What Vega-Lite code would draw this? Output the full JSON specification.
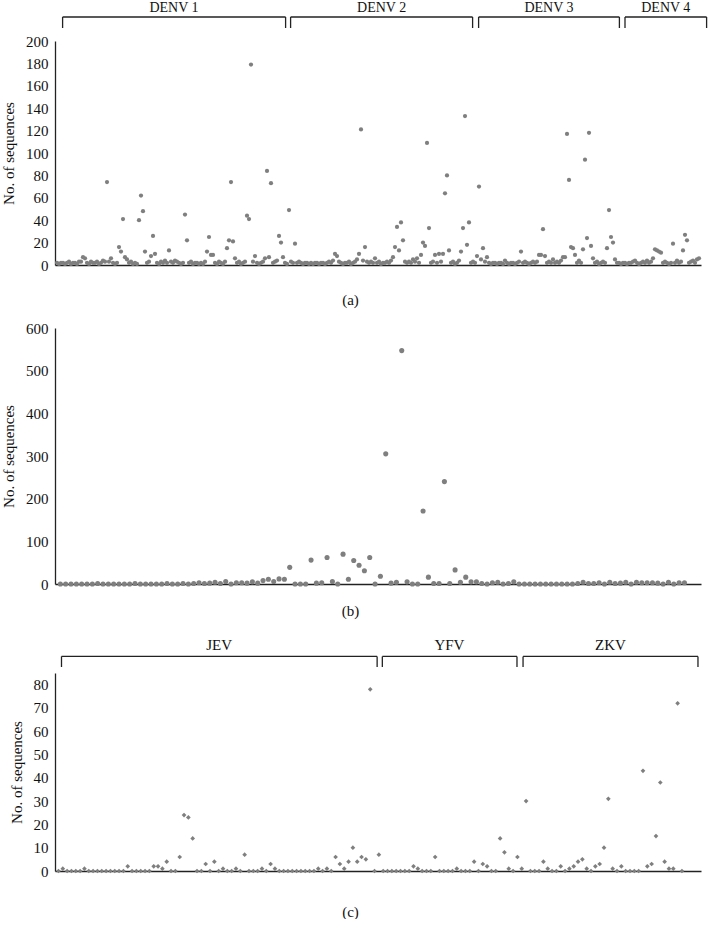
{
  "$schema": "https://vega.github.io/schema/vega-lite/v6.json",
  "padding": {"left": 1, "top": 0, "right": 0, "bottom": 0},
  "bounds": "flush",
  "spacing": 0,
  "config": {
    "view": {"stroke": null},
    "font": "Liberation Serif",
    "axis": {"grid": false, "ticks": false, "domainColor": "#222", "domainWidth": 1.3, "labelFont": "Liberation Serif", "labelFontSize": 15, "labelColor": "#111", "titleFont": "Liberation Serif", "titleFontSize": 15, "titleFontWeight": "normal", "titleColor": "#111"},
    "text": {"font": "Liberation Serif", "fontSize": 15, "color": "#111"}
  },
  "datasets": {
    "denv": [
      {"name": "DENV 1", "start": 3.8, "end": 115.3, "mid": 59.5},
      {"name": "DENV 2", "start": 117.8, "end": 208.8, "mid": 163.3},
      {"name": "DENV 3", "start": 211.8, "end": 282.2, "mid": 247},
      {"name": "DENV 4", "start": 285, "end": 325.8, "mid": 305.4}
    ],
    "other": [
      {"name": "JEV", "start": 1.7, "end": 74.6, "mid": 38.1},
      {"name": "YFV", "start": 75.8, "end": 106.9, "mid": 91.3},
      {"name": "ZKV", "start": 108.3, "end": 148.7, "mid": 128.5}
    ],
    "a": [
{"i":1,"n":2},{"i":2,"n":1},{"i":3,"n":2},{"i":4,"n":2},{"i":5,"n":1},{"i":6,"n":2},{"i":7,"n":3},{"i":8,"n":1},{"i":9,"n":2},{"i":10,"n":2},
{"i":11,"n":1},{"i":12,"n":3},{"i":13,"n":3},{"i":14,"n":7},{"i":15,"n":6},{"i":16,"n":2},{"i":17,"n":1},{"i":18,"n":3},{"i":19,"n":2},{"i":20,"n":2},
{"i":21,"n":3},{"i":22,"n":1},{"i":23,"n":2},{"i":24,"n":4},{"i":25,"n":3},{"i":26,"n":74},{"i":27,"n":3},{"i":28,"n":6},{"i":29,"n":2},{"i":30,"n":1},
{"i":31,"n":2},{"i":32,"n":16},{"i":33,"n":12},{"i":34,"n":41},{"i":35,"n":7},{"i":36,"n":5},{"i":37,"n":2},{"i":38,"n":3},{"i":39,"n":1},{"i":40,"n":2},
{"i":41,"n":1},{"i":42,"n":40},{"i":43,"n":62},{"i":44,"n":48},{"i":45,"n":12},{"i":46,"n":2},{"i":47,"n":3},{"i":48,"n":8},{"i":49,"n":26},{"i":50,"n":10},
{"i":51,"n":2},{"i":52,"n":1},{"i":53,"n":3},{"i":54,"n":2},{"i":55,"n":4},{"i":56,"n":2},{"i":57,"n":13},{"i":58,"n":3},{"i":59,"n":2},{"i":60,"n":4},
{"i":61,"n":3},{"i":62,"n":2},{"i":63,"n":1},{"i":64,"n":2},{"i":65,"n":45},{"i":66,"n":22},{"i":67,"n":2},{"i":68,"n":3},{"i":69,"n":1},{"i":70,"n":2},
{"i":71,"n":2},{"i":72,"n":1},{"i":73,"n":2},{"i":74,"n":1},{"i":75,"n":3},{"i":76,"n":12},{"i":77,"n":25},{"i":78,"n":9},{"i":79,"n":9},{"i":80,"n":2},
{"i":81,"n":1},{"i":82,"n":3},{"i":83,"n":2},{"i":84,"n":1},{"i":85,"n":3},{"i":86,"n":15},{"i":87,"n":22},{"i":88,"n":74},{"i":89,"n":21},{"i":90,"n":6},
{"i":91,"n":2},{"i":92,"n":3},{"i":93,"n":1},{"i":94,"n":2},{"i":95,"n":3},{"i":96,"n":44},{"i":97,"n":41},{"i":98,"n":179},{"i":99,"n":3},{"i":100,"n":8},
{"i":101,"n":2},{"i":102,"n":1},{"i":103,"n":2},{"i":104,"n":3},{"i":105,"n":6},{"i":106,"n":84},{"i":107,"n":7},{"i":108,"n":73},{"i":109,"n":2},{"i":110,"n":3},
{"i":111,"n":4},{"i":112,"n":26},{"i":113,"n":20},{"i":114,"n":7},{"i":115,"n":2},{"i":116,"n":1},{"i":117,"n":49},{"i":118,"n":3},{"i":119,"n":2},{"i":120,"n":19},
{"i":121,"n":2},{"i":122,"n":3},{"i":123,"n":2},{"i":124,"n":1},{"i":125,"n":2},{"i":126,"n":2},{"i":127,"n":1},{"i":128,"n":2},{"i":129,"n":1},{"i":130,"n":2},
{"i":131,"n":2},{"i":132,"n":1},{"i":133,"n":2},{"i":134,"n":2},{"i":135,"n":1},{"i":136,"n":2},{"i":137,"n":3},{"i":138,"n":2},{"i":139,"n":4},{"i":140,"n":10},
{"i":141,"n":8},{"i":142,"n":3},{"i":143,"n":2},{"i":144,"n":1},{"i":145,"n":2},{"i":146,"n":2},{"i":147,"n":3},{"i":148,"n":1},{"i":149,"n":2},{"i":150,"n":3},
{"i":151,"n":5},{"i":152,"n":10},{"i":153,"n":121},{"i":154,"n":4},{"i":155,"n":16},{"i":156,"n":3},{"i":157,"n":2},{"i":158,"n":3},{"i":159,"n":2},{"i":160,"n":6},
{"i":161,"n":2},{"i":162,"n":3},{"i":163,"n":1},{"i":164,"n":2},{"i":165,"n":2},{"i":166,"n":3},{"i":167,"n":2},{"i":168,"n":4},{"i":169,"n":7},{"i":170,"n":16},
{"i":171,"n":34},{"i":172,"n":13},{"i":173,"n":38},{"i":174,"n":22},{"i":175,"n":3},{"i":176,"n":2},{"i":177,"n":3},{"i":178,"n":2},{"i":179,"n":5},{"i":180,"n":3},
{"i":181,"n":6},{"i":182,"n":2},{"i":183,"n":9},{"i":184,"n":20},{"i":185,"n":17},{"i":186,"n":109},{"i":187,"n":33},{"i":188,"n":2},{"i":189,"n":3},{"i":190,"n":9},
{"i":191,"n":2},{"i":192,"n":10},{"i":193,"n":3},{"i":194,"n":10},{"i":195,"n":64},{"i":196,"n":80},{"i":197,"n":13},{"i":198,"n":2},{"i":199,"n":3},{"i":200,"n":1},
{"i":201,"n":2},{"i":202,"n":4},{"i":203,"n":12},{"i":204,"n":33},{"i":205,"n":133},{"i":206,"n":18},{"i":207,"n":38},{"i":208,"n":2},{"i":209,"n":3},{"i":210,"n":2},
{"i":211,"n":8},{"i":212,"n":70},{"i":213,"n":5},{"i":214,"n":15},{"i":215,"n":3},{"i":216,"n":7},{"i":217,"n":2},{"i":218,"n":1},{"i":219,"n":2},{"i":220,"n":2},
{"i":221,"n":1},{"i":222,"n":2},{"i":223,"n":2},{"i":224,"n":1},{"i":225,"n":4},{"i":226,"n":2},{"i":227,"n":1},{"i":228,"n":2},{"i":229,"n":2},{"i":230,"n":1},
{"i":231,"n":2},{"i":232,"n":3},{"i":233,"n":12},{"i":234,"n":2},{"i":235,"n":3},{"i":236,"n":2},{"i":237,"n":1},{"i":238,"n":2},{"i":239,"n":3},{"i":240,"n":2},
{"i":241,"n":3},{"i":242,"n":9},{"i":243,"n":9},{"i":244,"n":32},{"i":245,"n":8},{"i":246,"n":2},{"i":247,"n":3},{"i":248,"n":2},{"i":249,"n":5},{"i":250,"n":2},
{"i":251,"n":3},{"i":252,"n":2},{"i":253,"n":4},{"i":254,"n":7},{"i":255,"n":7},{"i":256,"n":117},{"i":257,"n":76},{"i":258,"n":16},{"i":259,"n":15},{"i":260,"n":9},
{"i":261,"n":2},{"i":262,"n":4},{"i":263,"n":2},{"i":264,"n":14},{"i":265,"n":94},{"i":266,"n":24},{"i":267,"n":118},{"i":268,"n":17},{"i":269,"n":6},{"i":270,"n":2},
{"i":271,"n":3},{"i":272,"n":1},{"i":273,"n":2},{"i":274,"n":3},{"i":275,"n":2},{"i":276,"n":15},{"i":277,"n":49},{"i":278,"n":25},{"i":279,"n":20},{"i":280,"n":5},
{"i":281,"n":2},{"i":282,"n":2},{"i":283,"n":1},{"i":284,"n":2},{"i":285,"n":2},{"i":286,"n":1},{"i":287,"n":2},{"i":288,"n":2},{"i":289,"n":3},{"i":290,"n":4},
{"i":291,"n":2},{"i":292,"n":1},{"i":293,"n":2},{"i":294,"n":3},{"i":295,"n":2},{"i":296,"n":4},{"i":297,"n":2},{"i":298,"n":3},{"i":299,"n":6},{"i":300,"n":14},
{"i":301,"n":13},{"i":302,"n":12},{"i":303,"n":11},{"i":304,"n":2},{"i":305,"n":3},{"i":306,"n":2},{"i":307,"n":1},{"i":308,"n":2},{"i":309,"n":19},{"i":310,"n":2},
{"i":311,"n":4},{"i":312,"n":2},{"i":313,"n":3},{"i":314,"n":13},{"i":315,"n":27},{"i":316,"n":22},{"i":317,"n":2},{"i":318,"n":3},{"i":319,"n":4},{"i":320,"n":2},
{"i":321,"n":5},{"i":322,"n":6}
    ],
    "b": [
{"j":1,"n":0},{"j":2,"n":0},{"j":3,"n":0},{"j":4,"n":0},{"j":5,"n":0},{"j":6,"n":0},{"j":7,"n":0},{"j":8,"n":1},{"j":9,"n":0},{"j":10,"n":0},
{"j":11,"n":0},{"j":12,"n":0},{"j":13,"n":0},{"j":14,"n":0},{"j":15,"n":1},{"j":16,"n":0},{"j":17,"n":0},{"j":18,"n":0},{"j":19,"n":0},{"j":20,"n":0},
{"j":21,"n":1},{"j":22,"n":0},{"j":23,"n":0},{"j":24,"n":1},{"j":25,"n":0},{"j":26,"n":1},{"j":27,"n":3},{"j":28,"n":1},{"j":29,"n":2},{"j":30,"n":4},
{"j":31,"n":1},{"j":32,"n":6},{"j":33,"n":0},{"j":34,"n":3},{"j":35,"n":3},{"j":36,"n":2},{"j":37,"n":5},{"j":38,"n":2},{"j":39,"n":8},{"j":40,"n":11},
{"j":41,"n":6},{"j":42,"n":12},{"j":43,"n":11},{"j":44,"n":39},{"j":45,"n":0},{"j":46,"n":0},{"j":47,"n":0},{"j":48,"n":56},{"j":49,"n":2},{"j":50,"n":3},
{"j":51,"n":62},{"j":52,"n":6},{"j":53,"n":0},{"j":54,"n":70},{"j":55,"n":11},{"j":56,"n":55},{"j":57,"n":44},{"j":58,"n":31},{"j":59,"n":62},{"j":60,"n":0},
{"j":61,"n":18},{"j":62,"n":305},{"j":63,"n":2},{"j":64,"n":4},{"j":65,"n":547},{"j":66,"n":5},{"j":67,"n":0},{"j":68,"n":0},{"j":69,"n":171},{"j":70,"n":16},
{"j":71,"n":1},{"j":72,"n":1},{"j":73,"n":240},{"j":74,"n":1},{"j":75,"n":33},{"j":76,"n":4},{"j":77,"n":16},{"j":78,"n":5},{"j":79,"n":5},{"j":80,"n":1},
{"j":81,"n":0},{"j":82,"n":3},{"j":83,"n":4},{"j":84,"n":0},{"j":85,"n":1},{"j":86,"n":5},{"j":87,"n":0},{"j":88,"n":0},{"j":89,"n":0},{"j":90,"n":0},
{"j":91,"n":0},{"j":92,"n":0},{"j":93,"n":0},{"j":94,"n":0},{"j":95,"n":0},{"j":96,"n":0},{"j":97,"n":0},{"j":98,"n":1},{"j":99,"n":4},{"j":100,"n":1},
{"j":101,"n":1},{"j":102,"n":3},{"j":103,"n":0},{"j":104,"n":4},{"j":105,"n":1},{"j":106,"n":2},{"j":107,"n":4},{"j":108,"n":0},{"j":109,"n":4},{"j":110,"n":3},
{"j":111,"n":3},{"j":112,"n":3},{"j":113,"n":2},{"j":114,"n":0},{"j":115,"n":4},{"j":116,"n":0},{"j":117,"n":3},{"j":118,"n":3}
    ],
    "c": [
{"k":1,"n":0},{"k":2,"n":1},{"k":3,"n":0},{"k":4,"n":0},{"k":5,"n":0},{"k":6,"n":0},{"k":7,"n":1},{"k":8,"n":0},{"k":9,"n":0},{"k":10,"n":0},
{"k":11,"n":0},{"k":12,"n":0},{"k":13,"n":0},{"k":14,"n":0},{"k":15,"n":0},{"k":16,"n":0},{"k":17,"n":2},{"k":18,"n":0},{"k":19,"n":0},{"k":20,"n":0},
{"k":21,"n":0},{"k":22,"n":0},{"k":23,"n":2},{"k":24,"n":2},{"k":25,"n":1},{"k":26,"n":4},{"k":27,"n":0},{"k":28,"n":0},{"k":29,"n":6},{"k":30,"n":24},
{"k":31,"n":23},{"k":32,"n":14},{"k":33,"n":0},{"k":34,"n":0},{"k":35,"n":3},{"k":36,"n":0},{"k":37,"n":4},{"k":38,"n":0},{"k":39,"n":1},{"k":40,"n":0},
{"k":41,"n":0},{"k":42,"n":1},{"k":43,"n":0},{"k":44,"n":7},{"k":45,"n":0},{"k":46,"n":0},{"k":47,"n":0},{"k":48,"n":1},{"k":49,"n":0},{"k":50,"n":3},
{"k":51,"n":1},{"k":52,"n":0},{"k":53,"n":0},{"k":54,"n":0},{"k":55,"n":0},{"k":56,"n":0},{"k":57,"n":0},{"k":58,"n":0},{"k":59,"n":0},{"k":60,"n":0},
{"k":61,"n":1},{"k":62,"n":0},{"k":63,"n":1},{"k":64,"n":0},{"k":65,"n":6},{"k":66,"n":3},{"k":67,"n":1},{"k":68,"n":4},{"k":69,"n":10},{"k":70,"n":4},
{"k":71,"n":6},{"k":72,"n":5},{"k":73,"n":78},{"k":74,"n":0},{"k":75,"n":7},{"k":76,"n":0},{"k":77,"n":0},{"k":78,"n":0},{"k":79,"n":0},{"k":80,"n":0},
{"k":81,"n":0},{"k":82,"n":0},{"k":83,"n":2},{"k":84,"n":1},{"k":85,"n":0},{"k":86,"n":0},{"k":87,"n":0},{"k":88,"n":6},{"k":89,"n":0},{"k":90,"n":0},
{"k":91,"n":0},{"k":92,"n":0},{"k":93,"n":1},{"k":94,"n":0},{"k":95,"n":0},{"k":96,"n":0},{"k":97,"n":4},{"k":98,"n":0},{"k":99,"n":3},{"k":100,"n":2},
{"k":101,"n":0},{"k":102,"n":0},{"k":103,"n":14},{"k":104,"n":8},{"k":105,"n":1},{"k":106,"n":0},{"k":107,"n":6},{"k":108,"n":1},{"k":109,"n":30},{"k":110,"n":0},
{"k":111,"n":0},{"k":112,"n":0},{"k":113,"n":4},{"k":114,"n":1},{"k":115,"n":0},{"k":116,"n":0},{"k":117,"n":2},{"k":118,"n":0},{"k":119,"n":1},{"k":120,"n":2},
{"k":121,"n":4},{"k":122,"n":5},{"k":123,"n":1},{"k":124,"n":0},{"k":125,"n":2},{"k":126,"n":3},{"k":127,"n":10},{"k":128,"n":31},{"k":129,"n":1},{"k":130,"n":0},
{"k":131,"n":2},{"k":132,"n":0},{"k":133,"n":0},{"k":134,"n":0},{"k":135,"n":0},{"k":136,"n":43},{"k":137,"n":2},{"k":138,"n":3},{"k":139,"n":15},{"k":140,"n":38},
{"k":141,"n":4},{"k":142,"n":1},{"k":143,"n":1},{"k":144,"n":72},{"k":145,"n":0}
    ]
  },
  "vconcat": [
    {
      "width": 646,
      "height": 23.7,
      "data": {"name": "denv"},
      "layer": [
        {"mark": {"type": "rule", "color": "#222", "strokeWidth": 1.3},
         "encoding": {"x": {"field": "start", "type": "quantitative", "scale": {"domain": [0, 323], "nice": false, "zero": false}, "axis": null},
                      "x2": {"field": "end"},
                      "y": {"datum": 1, "type": "quantitative", "scale": {"domain": [0, 1]}, "axis": null}}},
        {"mark": {"type": "rule", "color": "#222", "strokeWidth": 1.3},
         "encoding": {"x": {"field": "start", "type": "quantitative", "scale": {"domain": [0, 323], "nice": false, "zero": false}, "axis": null},
                      "y": {"datum": 0.536, "type": "quantitative", "scale": {"domain": [0, 1]}, "axis": null},
                      "y2": {"datum": 1}}},
        {"mark": {"type": "rule", "color": "#222", "strokeWidth": 1.3},
         "encoding": {"x": {"field": "end", "type": "quantitative", "scale": {"domain": [0, 323], "nice": false, "zero": false}, "axis": null},
                      "y": {"datum": 0.536, "type": "quantitative", "scale": {"domain": [0, 1]}, "axis": null},
                      "y2": {"datum": 1}}},
        {"mark": {"type": "text", "baseline": "alphabetic", "dy": -5.5, "fontSize": 14},
         "encoding": {"x": {"field": "mid", "type": "quantitative", "scale": {"domain": [0, 323], "nice": false, "zero": false}, "axis": null},
                      "y": {"datum": 1, "type": "quantitative", "scale": {"domain": [0, 1]}, "axis": null},
                      "text": {"field": "name"}}}
      ]
    },
    {
      "width": 646,
      "height": 224,
      "data": {"name": "a"},
      "mark": {"type": "point", "shape": "circle", "filled": true, "size": 18, "color": "#7f7f7f", "opacity": 1},
      "encoding": {
        "x": {"field": "i", "type": "quantitative", "scale": {"domain": [0, 323], "nice": false, "zero": false},
              "axis": {"labels": false, "title": "(a)", "titlePadding": 27, "titleX": 295}},
        "y": {"field": "n", "type": "quantitative", "scale": {"domain": [0, 200], "nice": false},
              "axis": {"values": [0, 20, 40, 60, 80, 100, 120, 140, 160, 180, 200], "title": "No. of sequences", "labelPadding": 7, "titlePadding": 9}}
      }
    },
    {
      "width": 646,
      "height": 62.3,
      "data": {"values": []},
      "mark": {"type": "point"},
      "encoding": {}
    },
    {
      "width": 646,
      "height": 256,
      "data": {"name": "b"},
      "mark": {"type": "point", "shape": "circle", "filled": true, "size": 26, "color": "#7f7f7f", "opacity": 1},
      "encoding": {
        "x": {"field": "j", "type": "quantitative", "scale": {"domain": [0, 121.1], "nice": false, "zero": false},
              "axis": {"labels": false, "title": "(b)", "titlePadding": 19, "titleX": 295}},
        "y": {"field": "n", "type": "quantitative", "scale": {"domain": [0, 600], "nice": false},
              "axis": {"values": [0, 100, 200, 300, 400, 500, 600], "title": "No. of sequences", "labelPadding": 7, "titlePadding": 9}}
      }
    },
    {
      "width": 646,
      "height": 88.7,
      "data": {"name": "other"},
      "layer": [
        {"mark": {"type": "rule", "color": "#222", "strokeWidth": 1.3},
         "encoding": {"x": {"field": "start", "type": "quantitative", "scale": {"domain": [0.2, 149.4], "nice": false, "zero": false}, "axis": null},
                      "x2": {"field": "end"},
                      "y": {"datum": 0.184, "type": "quantitative", "scale": {"domain": [0, 1]}, "axis": null}}},
        {"mark": {"type": "rule", "color": "#222", "strokeWidth": 1.3},
         "encoding": {"x": {"field": "start", "type": "quantitative", "scale": {"domain": [0.2, 149.4], "nice": false, "zero": false}, "axis": null},
                      "y": {"datum": 0.064, "type": "quantitative", "scale": {"domain": [0, 1]}, "axis": null},
                      "y2": {"datum": 0.184}}},
        {"mark": {"type": "rule", "color": "#222", "strokeWidth": 1.3},
         "encoding": {"x": {"field": "end", "type": "quantitative", "scale": {"domain": [0.2, 149.4], "nice": false, "zero": false}, "axis": null},
                      "y": {"datum": 0.064, "type": "quantitative", "scale": {"domain": [0, 1]}, "axis": null},
                      "y2": {"datum": 0.184}}},
        {"mark": {"type": "text", "baseline": "alphabetic", "dy": -6.5},
         "encoding": {"x": {"field": "mid", "type": "quantitative", "scale": {"domain": [0.2, 149.4], "nice": false, "zero": false}, "axis": null},
                      "y": {"datum": 0.184, "type": "quantitative", "scale": {"domain": [0, 1]}, "axis": null},
                      "text": {"field": "name"}}}
      ]
    },
    {
      "width": 646,
      "height": 198,
      "data": {"name": "c"},
      "mark": {"type": "point", "shape": "diamond", "filled": true, "size": 22, "color": "#7f7f7f", "opacity": 1},
      "encoding": {
        "x": {"field": "k", "type": "quantitative", "scale": {"domain": [0.2, 149.4], "nice": false, "zero": false},
              "axis": {"labels": false, "title": "(c)", "titlePadding": 33, "titleX": 295}},
        "y": {"field": "n", "type": "quantitative", "scale": {"domain": [0, 85], "nice": false},
              "axis": {"values": [0, 10, 20, 30, 40, 50, 60, 70, 80], "title": "No. of sequences", "labelPadding": 7, "titlePadding": 9}}
      }
    }
  ]
}
